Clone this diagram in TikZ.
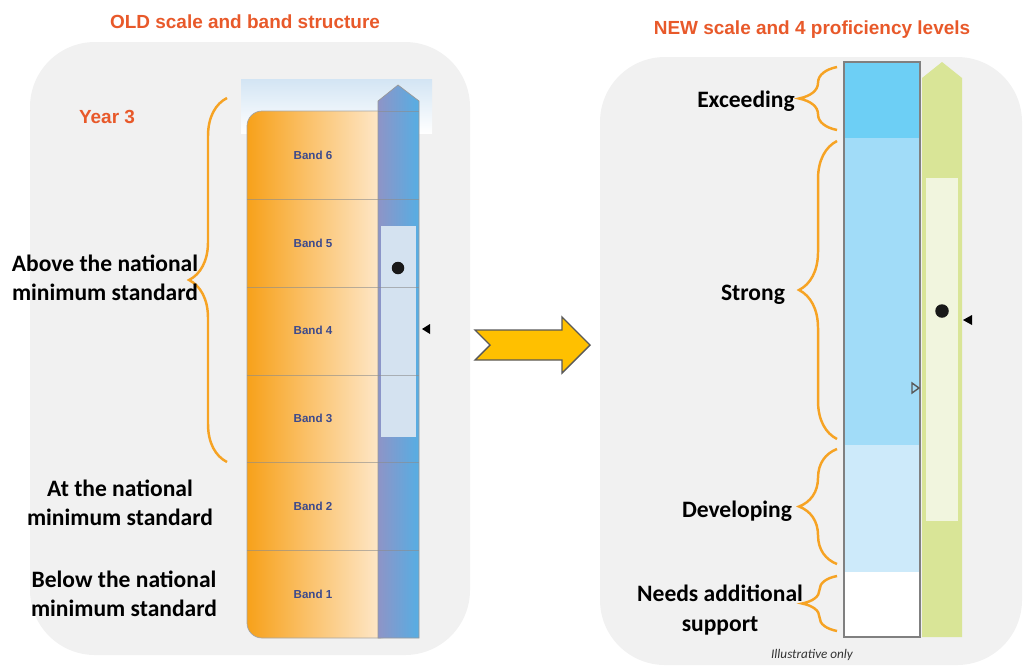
\documentclass[tikz,border=0pt]{standalone}
\usepackage{fontspec}
\setmainfont{Liberation Sans}
\newfontfamily\labfont{Carlito}
\usetikzlibrary{decorations.pathreplacing}

\definecolor{panelgray}{HTML}{F1F1F1}
\definecolor{titlered}{HTML}{E8592A}
\definecolor{topblue}{HTML}{D3E5F4}
\definecolor{bandorange}{HTML}{F7A11A}
\definecolor{bandpale}{HTML}{FFEFDC}
\definecolor{colleft}{HTML}{8E94C7}
\definecolor{colright}{HTML}{56AEE3}
\definecolor{innerblue}{HTML}{D4E2F0}
\definecolor{bandtext}{HTML}{3D4A8C}
\definecolor{bracecol}{HTML}{F6A324}
\definecolor{exceedblue}{HTML}{6DCFF5}
\definecolor{strongblue}{HTML}{A1DCF8}
\definecolor{devblue}{HTML}{CDEAFA}
\definecolor{arrowgreen}{HTML}{D9E597}
\definecolor{palegreen}{HTML}{F1F5DE}
\definecolor{arrowyellow}{HTML}{FFC000}

\tikzset{
    headtext/.style={text=titlered,font=\bfseries\fontsize{10.8}{13}\selectfont},
    levelname/.style={align=center,font=\labfont\bfseries\fontsize{13.4}{16.8}\selectfont},
    bandlabel/.style={text=bandtext,font=\bfseries\fontsize{6.6}{8}\selectfont},
    bandline/.style={draw=black!45,opacity=0.6,line width=0.4pt},
    orangebrace/.style={decorate,decoration={brace,amplitude=0.76cm},draw=bracecol,line width=1.4pt},
    dot/.style={circle,fill=black!90,inner sep=0pt,minimum size=0.25cm},
}

\begin{document}
\begin{tikzpicture}[x=0.02cm,y=-0.02cm]
        % 背景面板
        \useasboundingbox (0,0) rectangle (1026,667);
        \fill[panelgray,rounded corners=1.3cm] (30,42) rectangle (470,655);
        \fill[panelgray,rounded corners=1.3cm] (600,57) rectangle (1022,665);

        % 标题
        \node[headtext] (oldtitle) at (245,22) {OLD scale and band structure};
        \node[headtext] (newtitle) at (812,30) {NEW scale and 4 proficiency levels};
        \node[headtext] (year) at (107,117) {Year 3};

        % 旧的分数带
        \shade[top color=topblue,bottom color=white] (241,79) rectangle (432,133);
        \shadedraw[left color=bandorange,right color=bandpale,draw=black!35,rounded corners=0.3cm] (247,111) rectangle (395,638);
        \shadedraw[left color=colleft,right color=colright,draw=black!40] (378,638) -- (378,101) -- (398,85) -- (419,101) -- (419,638) -- cycle;
        \fill[innerblue] (381,226) rectangle (416,437);
        \draw[bandline] (378,111) -- (419,111);
        \foreach \y in {199,287,375,462,550}
            \draw[bandline] (247,\y) -- (419,\y);
        \foreach \i in {1,...,6}
            \node[bandlabel] (band\i) at (313,{638-(\i-0.5)*87.8}) {Band \i};
        \node[dot] (olddot) at (398,268) {};
        \fill[black] (422,329) -- (430,324) -- (430,334) -- cycle;

        % 旧的标签
        \coordinate (abovebot) at (227,462);
        \coordinate (abovetop) at (227,98);
        \draw[orangebrace] (abovebot) -- (abovetop);
        \node[levelname] (above) at (105,278) {Above the national\\minimum standard};
        \node[levelname] (at) at (120,503) {At the national\\minimum standard};
        \node[levelname] (below) at (124,594) {Below the national\\minimum standard};

        % 中间的箭头
        \filldraw[fill=arrowyellow,draw=black!65,line width=0.8pt] (475,330) -- (562,330) -- (562,317) -- (590,345) -- (562,373) -- (562,360) -- (475,360) -- (490,345) -- cycle;

        % 新的等级
        \fill[exceedblue] (844,62) rectangle (920,138);
        \fill[strongblue] (844,138) rectangle (920,445);
        \fill[devblue] (844,445) rectangle (920,572);
        \fill[white] (844,572) rectangle (920,637);
        \draw[black!50,line width=0.6pt] (844,62) rectangle (920,637);
        \fill[arrowgreen] (922,637) -- (922,78) -- (942,62) -- (962,78) -- (962,637) -- cycle;
        \fill[palegreen] (926,178) rectangle (958,521);
        \node[dot,minimum size=0.27cm] (newdot) at (942,311) {};
        \fill[black] (963,320) -- (972,315) -- (972,325) -- cycle;
        \draw[black!65,line width=0.8pt] (912,383) -- (919,388) -- (912,393) -- cycle;

        % 新的标签
        \coordinate (exceedbot) at (837,130);
        \coordinate (exceedtop) at (837,67);
        \coordinate (strongbot) at (837,439);
        \coordinate (strongtop) at (837,141);
        \coordinate (devbot) at (837,564);
        \coordinate (devtop) at (837,449);
        \coordinate (needbot) at (837,631);
        \coordinate (needtop) at (837,576);
        \draw[orangebrace] (exceedbot) -- (exceedtop);
        \draw[orangebrace] (strongbot) -- (strongtop);
        \draw[orangebrace] (devbot) -- (devtop);
        \draw[orangebrace,decoration={amplitude=0.7cm}] (needbot) -- (needtop);
        \node[levelname] (exceed) at (746,101) {Exceeding};
        \node[levelname] (strong) at (753,295) {Strong};
        \node[levelname] (develop) at (737,511) {Developing};
        \node[levelname] (needs) at (720,610) {Needs additional\\support};
        \node[font=\labfont\itshape\fontsize{7.5}{9}\selectfont,text=black!80] (note) at (812,655) {Illustrative only};
    \end{tikzpicture}
\end{document}
